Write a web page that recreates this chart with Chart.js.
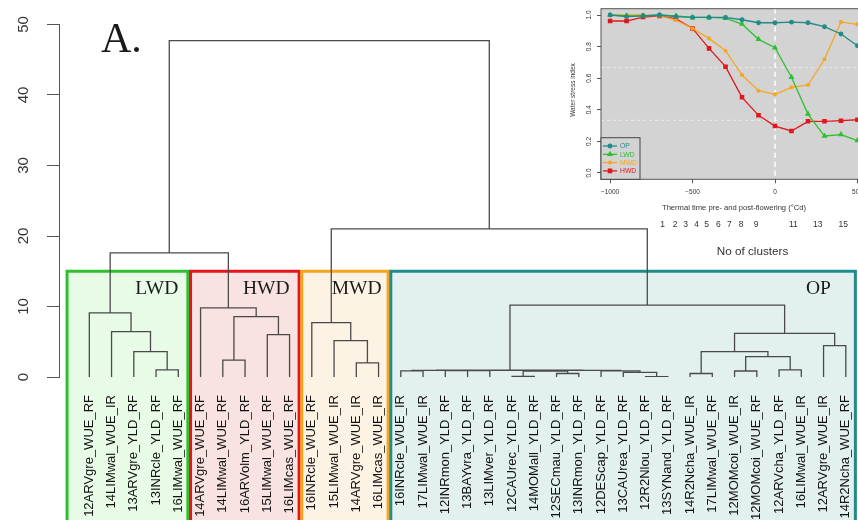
<!DOCTYPE html>
<html>
<head>
<meta charset="utf-8">
<script src="https://cdn.jsdelivr.net/npm/chart.js@4.4.1/dist/chart.umd.min.js"></script>
<style>
  body { margin: 0; background: #fff; overflow: hidden; }
  #wrap { position: relative; width: 858px; height: 520px; overflow: hidden; }
  #main { position: absolute; left: 0; top: 0; }
  #inset { position: absolute; left: 540px; top: 0; }
</style>
</head>
<body>
<div id="wrap">
  <canvas id="main" width="858" height="520"></canvas>
  <canvas id="inset" width="415" height="260"></canvas>
</div>
<script>
// leaves of the dendrogram, left to right
const leafLabels = [
  '12ARVgre_WUE_RF', '14LIMwal_WUE_IR', '13ARVgre_YLD_RF', '13INRcle_YLD_RF', '16LIMwal_WUE_RF',
  '14ARVgre_WUE_RF', '14LIMwal_WUE_RF', '16ARVolm_YLD_RF', '15LIMwal_WUE_RF', '16LIMcas_WUE_RF',
  '16INRcle_WUE_RF', '15LIMwal_WUE_IR', '14ARVgre_WUE_IR', '16LIMcas_WUE_IR',
  '16INRcle_WUE_IR', '17LIMwal_WUE_IR', '12INRmon_YLD_RF', '13BAYvra_YLD_RF', '13LIMver_YLD_RF',
  '12CAUrec_YLD_RF', '14MOMall_YLD_RF', '12SECmau_YLD_RF', '13INRmon_YLD_RF', '12DEScap_YLD_RF',
  '13CAUrea_YLD_RF', '12R2Nlou_YLD_RF', '13SYNand_YLD_RF', '14R2Ncha_WUE_IR', '17LIMwal_WUE_RF',
  '12MOMcoi_WUE_IR', '12MOMcoi_WUE_RF', '12ARVcha_YLD_RF', '16LIMwal_WUE_IR', '12ARVgre_WUE_IR',
  '14R2Ncha_WUE_RF'
];

// merges like R hclust: negative = leaf number, positive = earlier merge row
const mergeLeft = [-4, -3, -2, -1, -7, -9, 5, -6, 4, -13, -12, -11,
  -15, -18, -17, 13, -20, -22, 17, -26, -25, -24, 19, 16,
  -28, -30, -32, 26, 25, -34, 29, 24, 12, 9];
const mergeRight = [-5, 1, 2, 3, -8, -10, 6, 7, 8, -14, 10, 11,
  -16, -19, 14, 15, -21, -23, 18, -27, 20, 21, 22, 23,
  -29, -31, -33, 27, 28, -35, 30, 31, 32, 33];
const mergeHeight = [1.0, 3.6, 6.45, 9.1, 2.4, 6.0, 8.55, 9.8, 17.6, 2.0, 5.15, 7.7,
  0.88, 0.9, 0.92, 0.94, 0.1, 0.5, 0.85, 0.05, 0.66, 0.88, 0.93, 0.96,
  0.5, 0.85, 1.0, 2.9, 3.6, 4.45, 6.2, 10.2, 21.0, 47.7];

// clusters
const groupNames = ['LWD', 'HWD', 'MWD', 'OP'];
const groupFirst = [1, 6, 11, 15];
const groupLast = [5, 10, 14, 35];
const yTicks = [0, 10, 20, 30, 40, 50];

// inset: water stress index per cluster
const thermalTime = [-1000, -900, -800, -700, -600, -500, -400, -300, -200, -100, 0, 100, 200, 300, 400, 500];
const wsiOP  = [1.0, 0.99, 0.995, 1.0, 0.99, 0.985, 0.985, 0.985, 0.97, 0.951, 0.951, 0.955, 0.951, 0.926, 0.88, 0.806];
const wsiLWD = [1.0, 0.995, 0.995, 1.0, 0.995, 0.985, 0.985, 0.98, 0.943, 0.846, 0.793, 0.606, 0.373, 0.234, 0.243, 0.205];
const wsiMWD = [1.0, 1.0, 1.0, 0.995, 0.968, 0.915, 0.852, 0.774, 0.62, 0.521, 0.498, 0.542, 0.557, 0.72, 0.956, 0.941];
const wsiHWD = [0.962, 0.962, 0.987, 0.994, 0.975, 0.915, 0.789, 0.673, 0.479, 0.365, 0.297, 0.266, 0.327, 0.327, 0.331, 0.337];
const insetXTicks = [-1000, -500, 0, 500, 1000];
const insetYTicks = [0, 0.2, 0.4, 0.6, 0.8, 1.0];
const clusterNos = ['1', '2', '3', '4', '5', '6', '7', '8', '9', '11', '13', '15'];

const groupColors = ['#2ec02e', '#e8141c', '#f6a41c', '#1f8c8a'];
const groupFills = ['#e8fbe6', '#f9e2e2', '#fdf3e4', '#e3f0f0'];

// build dendrogram segments
const nodeX = [], nodeH = [];
const childX = c => c < 0 ? -c : nodeX[c - 1];
const childH = c => c < 0 ? 0 : nodeH[c - 1];
const segs = [];
mergeHeight.forEach((h, i) => {
  const a = mergeLeft[i], b = mergeRight[i];
  const xa = childX(a), xb = childX(b);
  segs.push({x: xa, y: childH(a)}, {x: xa, y: h}, {x: xb, y: h}, {x: xb, y: childH(b)}, {x: xb, y: null});
  nodeX.push((xa + xb) / 2);
  nodeH.push(h);
});

const boxes = {
  id: 'boxes',
  beforeDraw(chart) {
    const {ctx, scales: {x, y}} = chart;
    const top = y.getPixelForValue(15);
    groupNames.forEach((g, i) => {
      const l = x.getPixelForValue(groupFirst[i] - (i === 0 ? 1 : 0.45));
      const r = x.getPixelForValue(groupLast[i] + 0.43);
      ctx.fillStyle = groupFills[i];
      ctx.fillRect(l, top, r - l, 560 - top);
      ctx.strokeStyle = groupColors[i];
      ctx.lineWidth = 3;
      ctx.strokeRect(l, top, r - l, 560 - top);
    });
  },
  afterDraw(chart) {
    const {ctx, scales: {x, y}} = chart;
    ctx.save();
    ctx.fillStyle = '#1a1a1a';
    ctx.font = '19.5px "Liberation Serif"';
    ctx.textAlign = 'right';
    ctx.textBaseline = 'alphabetic';
    const shift = [0, 0, 3, -15];
    groupNames.forEach((g, i) => {
      ctx.fillText(g, x.getPixelForValue(groupLast[i]) + shift[i], 294);
    });
    ctx.font = '42px "Liberation Serif"';
    ctx.textAlign = 'left';
    ctx.fillText('A.', 101, 52);
    // rotated y tick labels like R
    ctx.font = '15px "Liberation Sans"';
    ctx.fillStyle = '#333';
    ctx.textAlign = 'center';
    ctx.textBaseline = 'middle';
    yTicks.forEach(v => {
      ctx.save();
      ctx.translate(24, y.getPixelForValue(v));
      ctx.rotate(-Math.PI / 2);
      ctx.fillText(String(v), 0, 0);
      ctx.restore();
    });
    ctx.restore();
  }
};

new Chart(document.getElementById('main'), {
  type: 'scatter',
  data: {
    datasets: [{
      data: segs,
      showLine: true,
      spanGaps: false,
      pointRadius: 0,
      borderColor: '#4a4a4a',
      borderWidth: 1.3
    }]
  },
  options: {
    responsive: false,
    animation: false,
    layout: { padding: { top: 24.5, right: 0, bottom: 0, left: 0 } },
    plugins: { legend: { display: false }, tooltip: { enabled: false } },
    scales: {
      x: {
        type: 'linear', min: -0.362, max: 35.548,
        grid: { display: false }, border: { display: false },
        afterBuildTicks: s => { s.ticks = leafLabels.map((_, i) => ({ value: i + 1 })); },
        afterFit: s => { s.height = 143; s.paddingLeft = 0; s.paddingRight = 0; },
        ticks: {
          autoSkip: false, minRotation: 90, maxRotation: 90, padding: 10,
          color: '#111', font: { family: 'Liberation Sans', size: 13 },
          callback: v => leafLabels[v - 1]
        }
      },
      y: {
        min: 0, max: 50,
        afterBuildTicks: s => { s.ticks = yTicks.map(v => ({ value: v })); },
        afterFit: s => { s.width = 59; s.paddingTop = 0; s.paddingBottom = 0; },
        grid: { drawOnChartArea: false, tickLength: 12, color: '#555' },
        border: { color: '#555' },
        ticks: { display: false }
      }
    }
  },
  plugins: [boxes]
});

// inset line chart
const xy = arr => thermalTime.map((t, i) => ({ x: t, y: arr[i] }));
const insetSeries = [
  { label: 'OP', data: wsiOP, color: '#238a8a', style: 'circle', r: 1.8 },
  { label: 'LWD', data: wsiLWD, color: '#2fbf2f', style: 'triangle', r: 2.2 },
  { label: 'MWD', data: wsiMWD, color: '#f6a623', style: 'circle', r: 1.4 },
  { label: 'HWD', data: wsiHWD, color: '#e3161c', style: 'rect', r: 2.3 }
];

const insetDeco = {
  id: 'insetDeco',
  beforeDraw(chart) {
    const {ctx, chartArea: a} = chart;
    ctx.fillStyle = '#d3d3d3';
    ctx.fillRect(a.left, a.top, a.right - a.left, a.bottom - a.top);
  },
  beforeDatasetsDraw(chart) {
    const {ctx, chartArea: a, scales: {x, y}} = chart;
    ctx.save();
    ctx.strokeStyle = 'rgba(255,255,255,0.55)';
    ctx.lineWidth = 1;
    ctx.setLineDash([3, 3]);
    [1 / 3, 2 / 3].forEach(v => {
      const py = y.getPixelForValue(v);
      ctx.beginPath(); ctx.moveTo(a.left, py); ctx.lineTo(a.right, py); ctx.stroke();
    });
    ctx.strokeStyle = '#fff';
    ctx.lineWidth = 1.5;
    ctx.setLineDash([5, 4]);
    const px = x.getPixelForValue(0);
    ctx.beginPath(); ctx.moveTo(px, a.top); ctx.lineTo(px, a.bottom); ctx.stroke();
    ctx.restore();
  },
  afterDraw(chart) {
    const {ctx, chartArea: a, scales: {x, y}} = chart;
    ctx.save();
    ctx.strokeStyle = '#555';
    ctx.lineWidth = 1;
    ctx.strokeRect(a.left, a.top, a.right - a.left, a.bottom - a.top);

    // legend, bottom left
    const lw = 39, lh = 41.6;
    ctx.fillStyle = '#d3d3d3';
    ctx.fillRect(a.left, a.bottom - lh, lw, lh);
    ctx.strokeStyle = '#444';
    ctx.strokeRect(a.left, a.bottom - lh, lw, lh);
    ctx.font = '6.8px "Liberation Sans"';
    ctx.textBaseline = 'middle';
    ctx.textAlign = 'left';
    insetSeries.forEach((s, i) => {
      const ly = a.bottom - 33.3 + i * 8.3;
      ctx.strokeStyle = s.color;
      ctx.fillStyle = s.color;
      ctx.lineWidth = 1.3;
      ctx.beginPath(); ctx.moveTo(a.left + 2, ly); ctx.lineTo(a.left + 16, ly); ctx.stroke();
      Chart.helpers.drawPoint(ctx, { pointStyle: s.style, radius: s.r, borderWidth: 1 }, a.left + 9, ly);
      ctx.fillStyle = s.color;
      ctx.fillText(s.label, a.left + 19, ly + 0.5);
    });

    // y tick labels (rotated) and titles
    ctx.fillStyle = '#333';
    ctx.font = '6.5px "Liberation Sans"';
    ctx.textAlign = 'center';
    insetYTicks.forEach(v => {
      ctx.save();
      ctx.translate(49, y.getPixelForValue(v));
      ctx.rotate(-Math.PI / 2);
      ctx.fillText(v.toFixed(1), 0, 0);
      ctx.restore();
    });
    ctx.save();
    ctx.translate(33, 90);
    ctx.rotate(-Math.PI / 2);
    ctx.fillText('Water stress index', 0, 0);
    ctx.restore();
    ctx.font = '7.6px "Liberation Sans"';
    ctx.fillText('Thermal time pre- and post-flowering (\u00b0Cd)', 194, 208);

    const nx = [122.7, 135, 145.7, 156.7, 166.7, 178.3, 189.3, 201, 216, 253.3, 277.7, 303.3];
    ctx.font = '8.5px "Liberation Sans"';
    clusterNos.forEach((n, i) => ctx.fillText(n, nx[i], 225));
    ctx.font = '11.7px "Liberation Sans"';
    ctx.fillText('No of clusters', 212.5, 252);
    ctx.restore();
  }
};

new Chart(document.getElementById('inset'), {
  type: 'line',
  data: {
    datasets: insetSeries.map(s => ({
      label: s.label,
      data: xy(s.data),
      borderColor: s.color,
      backgroundColor: s.color,
      pointBackgroundColor: s.color,
      pointBorderColor: s.color,
      pointStyle: s.style,
      pointRadius: s.r,
      borderWidth: 1.3,
      tension: 0
    }))
  },
  options: {
    responsive: false,
    animation: false,
    layout: { padding: { top: 8.7, right: 6, bottom: 0, left: 0 } },
    plugins: { legend: { display: false }, tooltip: { enabled: false } },
    scales: {
      x: {
        type: 'linear', min: -1055, max: 1055,
        afterBuildTicks: s => { s.ticks = insetXTicks.map(v => ({ value: v })); },
        afterFit: s => { s.height = 80.7; s.paddingLeft = 0; s.paddingRight = 0; },
        grid: { drawOnChartArea: false, tickLength: 4, color: '#555' },
        border: { display: false },
        ticks: { padding: 5, color: '#333', font: { family: 'Liberation Sans', size: 6.5 },
          callback: v => String(v).replace('-', '\u2212') }
      },
      y: {
        min: -0.04, max: 1.04,
        afterBuildTicks: s => { s.ticks = insetYTicks.map(v => ({ value: v })); },
        afterFit: s => { s.width = 61; s.paddingTop = 0; s.paddingBottom = 0; },
        grid: { drawOnChartArea: false, tickLength: 4, color: '#555' },
        border: { display: false },
        ticks: { display: false }
      }
    }
  },
  plugins: [insetDeco]
});
</script>
</body>
</html>
